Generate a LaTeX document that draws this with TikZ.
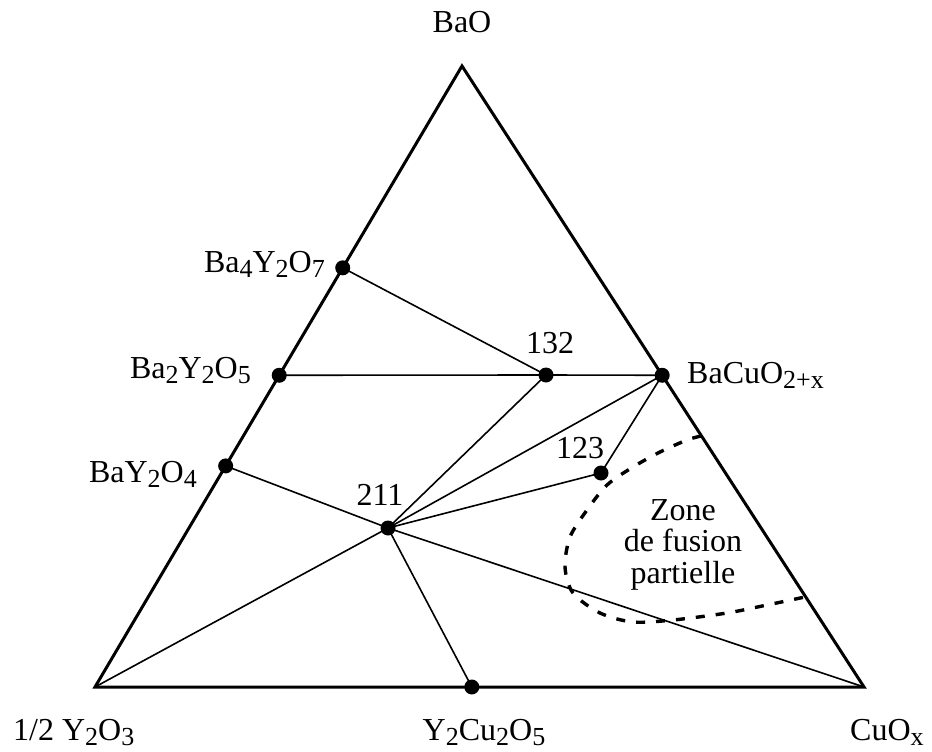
\documentclass[tikz,border=0pt]{standalone}
\usepackage{fontspec}
\setmainfont{Liberation Serif}
\usetikzlibrary{calc}
\newcommand\sbs[1]{\raisebox{-5pt}{\fontsize{26}{26}\selectfont #1}}
\begin{document}
\begin{tikzpicture}[x=1pt,y=-1pt,
  lbl/.style={font=\fontsize{32}{31.5}\selectfont, inner sep=0pt},
  dot/.style={circle,fill=black,inner sep=0pt,minimum size=15pt},
  edgeline/.style={line width=3pt,line join=miter},
  tie/.style={line width=1.6pt},
  zone/.style={line width=3.4pt, dash pattern=on 9pt off 11pt}]
\useasboundingbox (0,0) rectangle (932,752);
\coordinate (A) at (462,66);
\coordinate (B) at (95,687);
\coordinate (C) at (864,687);
% dots
\node[dot] (p47) at ($(A)!0.325!(B)$) {};
\node[dot] (p25) at ($(A)!0.498!(B)$) {};
\node[dot] (p14) at ($(A)!0.644!(B)$) {};
\node[dot] (pbc) at ($(A)!0.498!(C)$) {};
\node[dot] (pyc) at ($(B)!0.49!(C)$) {};
\node[dot] (p132) at (546,375) {};
\node[dot] (p123) at (601,473) {};
\node[dot] (p211) at (388,528) {};
% triangle
\draw[edgeline] (A) -- (B) -- (C) -- cycle;
% tie lines
\draw[tie] (p47.center) -- (p132.center);
\draw[tie] (p25.center) -- (p132.center) -- (pbc.center);
\draw[tie] (p14.center) -- (p211.center) -- (C);
\draw[tie] (p211.center) -- (p132.center);
\draw[tie] (p211.center) -- (pbc.center);
\draw[tie] (p211.center) -- (p123.center) -- (pbc.center);
\draw[tie] (p211.center) -- (B);
\draw[tie] (p211.center) -- (pyc.center);
% partial melting zone
\draw[zone] plot[smooth] coordinates {(701,436) (687,440) (660,452) (633,467) (607,485) (587,510) (570,537) (565,567) (573,593) (600,613) (633,622) (673,620) (727,613) (767,605) (805,597)};
% labels
\node[lbl,anchor=base] (lA) at (462,33) {BaO};
\node[lbl,anchor=base east] (l47) at (325,272) {Ba\sbs{4}Y\sbs{2}O\sbs{7}};
\node[lbl,anchor=base east] (l25) at (251,378) {Ba\sbs{2}Y\sbs{2}O\sbs{5}};
\node[lbl,anchor=base east] (l14) at (197,482) {BaY\sbs{2}O\sbs{4}};
\node[lbl,anchor=base] (l132) at (550,353) {132};
\node[lbl,anchor=base] (l123) at (580,458) {123};
\node[lbl,anchor=base] (l211) at (380,505) {211};
\node[lbl,anchor=base west] (lbc) at (687,383) {BaCuO\sbs{2+x}};
\node[lbl,anchor=base west] (lB) at (13,740) {1/2 Y\sbs{2}O\sbs{3}};
\node[lbl,anchor=base] (lyc) at (484,740) {Y\sbs{2}Cu\sbs{2}O\sbs{5}};
\node[lbl,anchor=base west] (lC) at (850,740) {CuO\sbs{x}};
\node[lbl,align=center,anchor=center] (lz) at (683,544.5) {Zone\\de fusion\\partielle};
\end{tikzpicture}
\end{document}
